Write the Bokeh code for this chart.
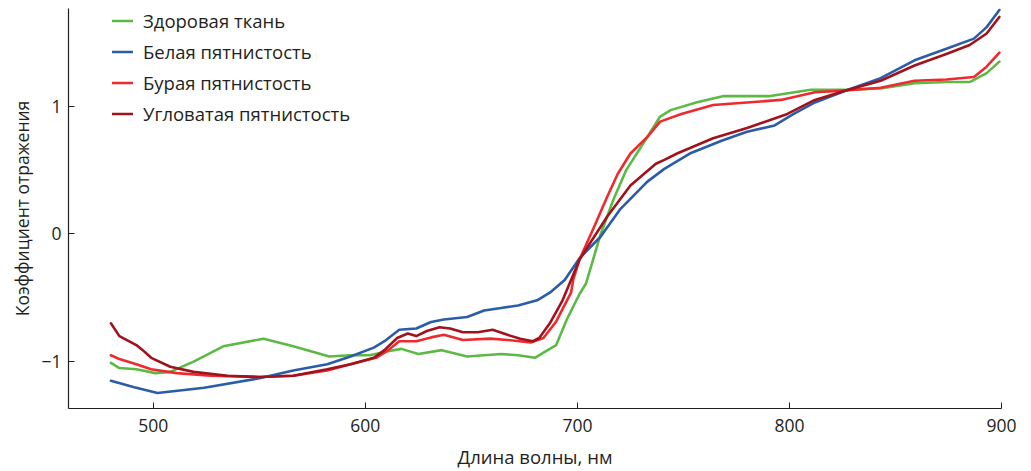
from bokeh.plotting import figure
from bokeh.models import FixedTicker, Legend, LegendItem, Range1d
from bokeh.embed import file_html
from bokeh.resources import INLINE

# ---- data ----
series_names = ["Здоровая ткань", "Белая пятнистость", "Бурая пятнистость", "Угловатая пятнистость"]
series_colors = ["#5cb946", "#2a5ca8", "#ee2a2e", "#a0121c"]

green_x = [480, 484, 492, 501, 508, 519, 533, 552, 566, 583, 593, 602, 610, 617, 625, 636, 648, 664,
           672, 680, 684, 690, 695, 698, 701, 704, 711, 717, 723, 733, 739, 744, 756, 769, 791, 810,
           827, 843, 859, 874, 885, 893, 899]
green_y = [-1.01, -1.05, -1.06, -1.09, -1.08, -1.00, -0.88, -0.82, -0.88, -0.96, -0.95, -0.95, -0.92,
           -0.90, -0.94, -0.91, -0.96, -0.94, -0.95, -0.97, -0.93, -0.87, -0.67, -0.57, -0.47, -0.39,
           0.00, 0.27, 0.50, 0.76, 0.92, 0.97, 1.03, 1.08, 1.08, 1.13, 1.13, 1.14, 1.18, 1.19, 1.19,
           1.26, 1.35]

blue_x = [480, 491, 502, 524, 550, 566, 582, 593, 604, 609, 616, 624, 631, 637, 648, 656, 664, 672,
          681, 687, 694, 701, 711, 720, 733, 741, 753, 768, 780, 793, 802, 812, 827, 843, 859, 874,
          887, 893, 899]
blue_y = [-1.15, -1.20, -1.245, -1.205, -1.13, -1.07, -1.02, -0.96, -0.89, -0.84, -0.75, -0.74, -0.69,
          -0.67, -0.65, -0.60, -0.58, -0.56, -0.52, -0.46, -0.36, -0.19, -0.02, 0.19, 0.41, 0.51, 0.63,
          0.73, 0.80, 0.85, 0.94, 1.03, 1.125, 1.22, 1.36, 1.45, 1.53, 1.62, 1.755]

red_x = [480, 484, 492, 499, 511, 527, 550, 566, 582, 593, 605, 610, 616, 624, 631, 637, 646, 659,
         667, 678, 684, 690, 697, 698, 701, 708, 714, 719, 725, 733, 739, 749, 764, 780, 796, 812,
         827, 843, 859, 874, 887, 893, 899]
red_y = [-0.95, -0.98, -1.02, -1.06, -1.09, -1.11, -1.12, -1.11, -1.07, -1.02, -0.97, -0.92, -0.84,
         -0.84, -0.81, -0.79, -0.83, -0.82, -0.83, -0.85, -0.815, -0.685, -0.46, -0.36, -0.20, 0.06,
         0.29, 0.47, 0.63, 0.76, 0.88, 0.94, 1.01, 1.03, 1.05, 1.11, 1.125, 1.145, 1.20, 1.21, 1.23,
         1.31, 1.42]

darkred_x = [480, 484, 492, 495, 499, 508, 519, 535, 550, 566, 582, 593, 604, 609, 615, 620, 624, 629,
             635, 640, 646, 653, 660, 667, 673, 679, 682, 687, 693, 697, 701, 714, 725, 737, 741, 747,
             764, 780, 799, 812, 827, 843, 859, 874, 885, 893, 899]
darkred_y = [-0.70, -0.80, -0.87, -0.91, -0.97, -1.04, -1.08, -1.11, -1.12, -1.11, -1.06, -1.02, -0.97,
             -0.91, -0.815, -0.78, -0.80, -0.76, -0.73, -0.74, -0.77, -0.77, -0.75, -0.79, -0.82, -0.84,
             -0.815, -0.70, -0.52, -0.36, -0.20, 0.135, 0.38, 0.55, 0.58, 0.63, 0.75, 0.83, 0.94, 1.05,
             1.125, 1.20, 1.32, 1.41, 1.48, 1.57, 1.70]

x_ticks = [500, 600, 700, 800, 900]
y_ticks = [-1, 0, 1]
y_tick_labels = {-1: "\u22121", 0: "0", 1: "1"}
x_label = "Длина волны, нм"
y_label = "Коэффициент отражения"

FONT = "Open Sans"
TXT = "#231f20"

p = figure(width=1031, height=471, output_backend="svg", toolbar_location=None,
           x_range=Range1d(460, 900), y_range=Range1d(-1.367, 1.766),
           min_border_left=68, min_border_right=30, min_border_top=8, min_border_bottom=62)
p.outline_line_color = None
p.grid.visible = False
p.background_fill_color = "white"

renderers = []
for xs, ys, col in [(green_x, green_y, series_colors[0]), (blue_x, blue_y, series_colors[1]),
                    (red_x, red_y, series_colors[2]), (darkred_x, darkred_y, series_colors[3])]:
    r = p.line(xs, ys, line_color=col, line_width=2.6, line_join="round", line_cap="round")
    renderers.append(r)

for ax in (p.xaxis[0], p.yaxis[0]):
    ax.axis_line_color = TXT
    ax.axis_line_width = 1.2
    ax.major_tick_line_color = TXT
    ax.major_tick_in = 6
    ax.major_tick_out = 0
    ax.minor_tick_line_color = None
    ax.major_label_text_font = FONT
    ax.major_label_text_font_size = "17.5px"
    ax.major_label_text_color = TXT
    ax.axis_label_text_font = FONT
    ax.axis_label_text_font_style = "normal"
    ax.axis_label_text_color = TXT

p.xaxis.ticker = FixedTicker(ticks=x_ticks)
p.yaxis.ticker = FixedTicker(ticks=y_ticks)
p.yaxis.major_label_overrides = y_tick_labels
p.xaxis.axis_label = x_label
p.yaxis.axis_label = y_label
p.xaxis.axis_label_text_font_size = "18.5px"
p.yaxis.axis_label_text_font_size = "17.5px"
p.xaxis.major_label_standoff = 10
p.xaxis.axis_label_standoff = 9
p.yaxis.major_label_standoff = 7
p.yaxis.axis_label_standoff = 4

legend = Legend(items=[LegendItem(label=n, renderers=[r]) for n, r in zip(series_names, renderers)],
                location=(44, 282), border_line_color=None, background_fill_alpha=0,
                glyph_width=21, glyph_height=25, label_height=25, spacing=6, padding=0, margin=0,
                label_standoff=10, label_text_font=FONT, label_text_font_size="18.5px",
                label_text_color=TXT)
p.add_layout(legend)

open("out.html", "w").write(file_html(p, INLINE))
